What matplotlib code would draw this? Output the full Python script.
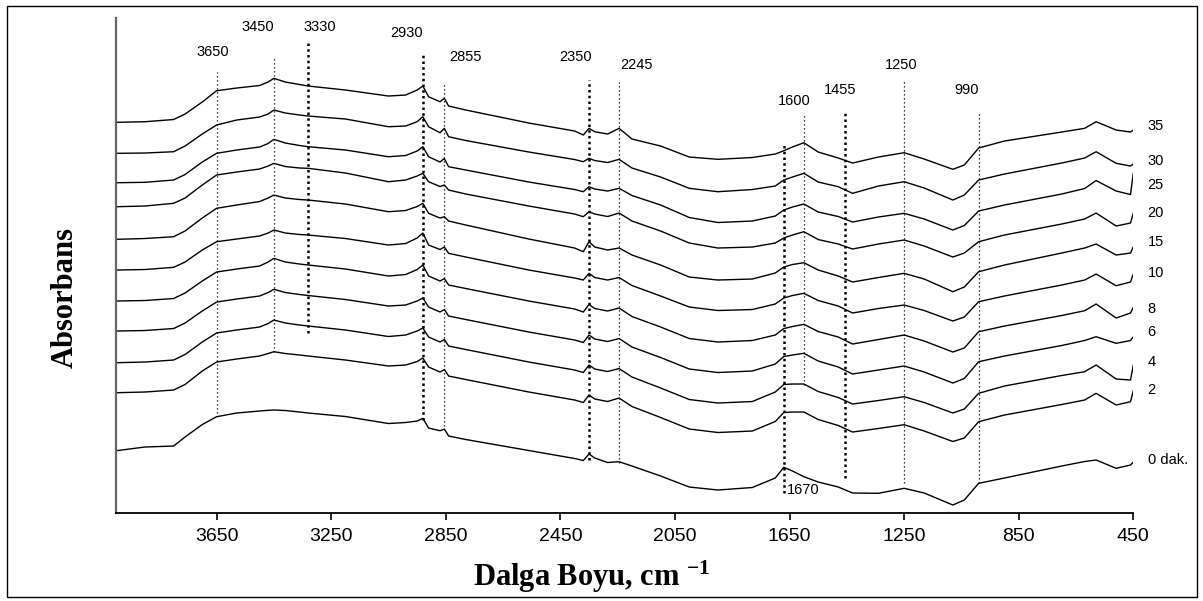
import matplotlib
matplotlib.use("Agg")
import matplotlib.pyplot as plt
from matplotlib.patches import Rectangle

plt.rcParams['font.family'] = ['Liberation Sans', 'DejaVu Sans']
plt.rcParams['mathtext.fontset'] = 'custom'
plt.rcParams['mathtext.rm'] = 'Liberation Serif:bold'
plt.rcParams['mathtext.it'] = 'Liberation Serif:bold'
plt.rcParams['mathtext.bf'] = 'Liberation Serif:bold'

# wavenumber grid (cm-1) shared by all spectra
wn = [4000, 3900, 3800, 3760, 3700, 3650, 3580, 3500, 3470, 3450,
      3410, 3360, 3330, 3200, 3050, 2990, 2950, 2930, 2910, 2870,
      2855, 2840, 2780, 2560, 2400, 2370, 2350, 2330, 2285, 2245,
      2200, 2100, 2000, 1900, 1780, 1700, 1670, 1640, 1600, 1550,
      1480, 1430, 1340, 1250, 1180, 1080, 1040, 990, 900, 700,
      620, 580, 510, 460, 450]

# absorbance (stacked) for each time in minutes
a35 = [3.907, 3.913, 3.935, 3.99, 4.11, 4.223, 4.25, 4.275, 4.31, 4.347,
       4.31, 4.285, 4.27, 4.23, 4.17, 4.18, 4.23, 4.27, 4.163, 4.113,
       4.147, 4.07, 4.03, 3.90, 3.82, 3.78, 3.847, 3.813, 3.79, 3.847,
       3.74, 3.67, 3.56, 3.537, 3.555, 3.59, 3.623, 3.66, 3.703, 3.61,
       3.55, 3.50, 3.56, 3.603, 3.54, 3.437, 3.48, 3.65, 3.72, 3.81,
       3.847, 3.913, 3.83, 3.81, 3.83]
a30 = [3.597, 3.60, 3.613, 3.67, 3.79, 3.88, 3.93, 3.96, 3.99, 4.03,
       4.00, 3.98, 3.97, 3.94, 3.863, 3.87, 3.913, 3.963, 3.863, 3.803,
       3.847, 3.763, 3.725, 3.61, 3.535, 3.513, 3.547, 3.525, 3.505, 3.537,
       3.45, 3.36, 3.247, 3.213, 3.235, 3.27, 3.33, 3.36, 3.397, 3.31,
       3.263, 3.197, 3.27, 3.313, 3.25, 3.13, 3.18, 3.33, 3.39, 3.50,
       3.55, 3.613, 3.497, 3.47, 3.49]
a25 = [3.303, 3.307, 3.33, 3.385, 3.51, 3.597, 3.63, 3.66, 3.695, 3.737,
       3.70, 3.675, 3.663, 3.63, 3.563, 3.575, 3.62, 3.663, 3.563, 3.51,
       3.545, 3.463, 3.43, 3.31, 3.235, 3.213, 3.263, 3.24, 3.22, 3.247,
       3.175, 3.08, 2.955, 2.905, 2.92, 2.97, 3.03, 3.06, 3.09, 3.01,
       2.965, 2.91, 2.96, 2.997, 2.94, 2.83, 2.875, 3.02, 3.08, 3.19,
       3.245, 3.325, 3.22, 3.185, 3.40]
a20 = [3.063, 3.07, 3.097, 3.15, 3.28, 3.38, 3.41, 3.44, 3.47, 3.497,
       3.465, 3.45, 3.447, 3.40, 3.313, 3.33, 3.37, 3.397, 3.313, 3.265,
       3.28, 3.23, 3.19, 3.07, 2.99, 2.963, 3.013, 2.99, 2.965, 3.00,
       2.92, 2.82, 2.70, 2.65, 2.66, 2.70, 2.75, 2.78, 2.813, 2.735,
       2.69, 2.64, 2.69, 2.73, 2.67, 2.56, 2.60, 2.713, 2.78, 2.89,
       2.94, 3.00, 2.87, 2.90, 3.00]
a15 = [2.737, 2.745, 2.763, 2.82, 2.95, 3.047, 3.08, 3.115, 3.15, 3.18,
       3.15, 3.135, 3.13, 3.09, 3.013, 3.025, 3.065, 3.097, 2.997, 2.95,
       2.963, 2.92, 2.88, 2.74, 2.65, 2.613, 2.713, 2.66, 2.63, 2.65,
       2.58, 2.48, 2.36, 2.33, 2.34, 2.40, 2.46, 2.485, 2.503, 2.43,
       2.37, 2.31, 2.355, 2.397, 2.34, 2.213, 2.26, 2.413, 2.48, 2.60,
       2.65, 2.69, 2.58, 2.60, 2.663]
a10 = [2.43, 2.435, 2.457, 2.51, 2.63, 2.713, 2.74, 2.77, 2.80, 2.83,
       2.80, 2.785, 2.78, 2.745, 2.68, 2.695, 2.75, 2.80, 2.68, 2.635,
       2.66, 2.597, 2.56, 2.43, 2.35, 2.33, 2.397, 2.355, 2.33, 2.355,
       2.275, 2.17, 2.06, 2.025, 2.035, 2.09, 2.15, 2.175, 2.197, 2.125,
       2.07, 2.00, 2.045, 2.08, 2.025, 1.92, 1.96, 2.113, 2.17, 2.28,
       2.33, 2.39, 2.273, 2.31, 2.39]
a8 = [2.12, 2.125, 2.145, 2.20, 2.32, 2.41, 2.44, 2.47, 2.51, 2.547,
      2.51, 2.49, 2.48, 2.44, 2.37, 2.385, 2.435, 2.48, 2.37, 2.32,
      2.345, 2.28, 2.245, 2.12, 2.04, 2.01, 2.085, 2.045, 2.02, 2.05,
      1.965, 1.86, 1.745, 1.71, 1.725, 1.78, 1.845, 1.865, 1.887, 1.815,
      1.76, 1.69, 1.735, 1.78, 1.72, 1.61, 1.65, 1.813, 1.87, 1.975,
      2.023, 2.09, 1.95, 2.00, 2.057]
a6 = [1.82, 1.825, 1.845, 1.90, 2.02, 2.11, 2.14, 2.17, 2.205, 2.237,
      2.205, 2.185, 2.175, 2.135, 2.07, 2.08, 2.12, 2.15, 2.06, 2.01,
      2.035, 1.97, 1.935, 1.81, 1.73, 1.705, 1.78, 1.74, 1.715, 1.745,
      1.66, 1.555, 1.44, 1.405, 1.42, 1.49, 1.565, 1.58, 1.597, 1.52,
      1.46, 1.39, 1.43, 1.47, 1.41, 1.30, 1.345, 1.513, 1.57, 1.675,
      1.725, 1.763, 1.697, 1.725, 1.763]
a4 = [1.503, 1.51, 1.53, 1.585, 1.71, 1.80, 1.83, 1.86, 1.895, 1.93,
      1.90, 1.88, 1.87, 1.83, 1.765, 1.78, 1.82, 1.85, 1.76, 1.71,
      1.735, 1.67, 1.635, 1.51, 1.43, 1.405, 1.48, 1.44, 1.415, 1.445,
      1.36, 1.25, 1.135, 1.10, 1.115, 1.21, 1.285, 1.29, 1.29, 1.215,
      1.155, 1.09, 1.125, 1.163, 1.105, 1.00, 1.04, 1.197, 1.27, 1.375,
      1.413, 1.48, 1.34, 1.33, 1.48]
a2 = [1.203, 1.21, 1.23, 1.285, 1.42, 1.51, 1.54, 1.57, 1.595, 1.613,
      1.595, 1.58, 1.57, 1.53, 1.47, 1.48, 1.515, 1.55, 1.46, 1.41,
      1.435, 1.37, 1.335, 1.21, 1.13, 1.105, 1.18, 1.14, 1.115, 1.15,
      1.065, 0.955, 0.84, 0.805, 0.82, 0.915, 1.005, 1.01, 1.01, 0.935,
      0.875, 0.81, 0.845, 0.883, 0.82, 0.715, 0.75, 0.913, 0.98, 1.085,
      1.13, 1.197, 1.08, 1.113, 1.223]
a0 = [0.623, 0.66, 0.67, 0.76, 0.885, 0.963, 1.00, 1.02, 1.027, 1.03,
      1.025, 1.01, 1.00, 0.965, 0.895, 0.905, 0.92, 0.947, 0.85, 0.823,
      0.84, 0.77, 0.735, 0.625, 0.545, 0.525, 0.59, 0.55, 0.505, 0.513,
      0.47, 0.37, 0.26, 0.23, 0.255, 0.35, 0.457, 0.42, 0.363, 0.31,
      0.26, 0.20, 0.197, 0.247, 0.20, 0.08, 0.13, 0.297, 0.35, 0.47,
      0.515, 0.53, 0.447, 0.48, 0.51]

spectra = [a35, a30, a25, a20, a15, a10, a8, a6, a4, a2, a0]
names = ['35', '30', '25', '20', '15', '10', '8', '6', '4', '2', '0 dak.']
name_y = [3.87, 3.52, 3.28, 3.00, 2.71, 2.40, 2.04, 1.81, 1.51, 1.23, 0.53]

# marked bands: position, line top, line bottom, bold dots
bands = [3650, 3450, 3330, 2930, 2855, 2350, 2245, 1670, 1600, 1455, 1250, 990]
band_top = [4.41, 4.56, 4.70, 4.61, 4.30, 4.33, 4.31, 3.68, 4.00, 4.01, 4.33, 4.00]
band_bot = [1.00, 1.61, 1.80, 0.93, 0.83, 0.53, 0.50, 0.20, 1.28, 0.35, 0.30, 0.30]
band_bold = [False, False, True, True, False, True, False, True, False, True, False, False]
# label anchors (wavenumber, absorbance)
band_lx = [3662, 3505, 3289, 2986, 2780, 2396, 2183, 1604, 1632, 1472, 1262, 1032]
band_ly = [4.61, 4.86, 4.86, 4.80, 4.56, 4.56, 4.48, 0.23, 4.12, 4.23, 4.48, 4.23]

fig = plt.figure(figsize=(12.03, 6.01), dpi=100)
ax = fig.add_axes([0.0962, 0.1464, 0.8459, 0.8236])

for s in spectra:
    ax.plot(wn, s, color='black', lw=1.0)

for b, t, lo, bold in zip(bands, band_top, band_bot, band_bold):
    ax.vlines(b, lo, t, colors='black', linestyles=(0, (1, 2.2)) if not bold else (0, (1, 1.3)),
              lw=1.8 if bold else 0.9)

for b, x, y in zip(bands, band_lx, band_ly):
    ax.text(x, y, str(b), ha='center', va='center', fontsize=10.5)

for n, y in zip(names, name_y):
    ax.text(400, y, n, ha='left', va='center', fontsize=10.5, clip_on=False)

ax.set_xlim(4002, 450)
ax.set_ylim(0, 4.95)
ax.set_xticks([3650, 3250, 2850, 2450, 2050, 1650, 1250, 850, 450])
ax.set_yticks([])
ax.tick_params(axis='x', direction='out', length=5, width=1.2, labelsize=14, pad=6)
for side in ['top', 'right']:
    ax.spines[side].set_visible(False)
ax.spines['bottom'].set_linewidth(1.3)
ax.spines['left'].set_color('#666666')
ax.spines['left'].set_linewidth(1.6)

fig.text(592 / 1203, 1 - 577 / 601, r'Dalga Boyu, cm $^{-1}$', ha='center', va='center',
         fontsize=22, family='Liberation Serif', weight='bold')
fig.text(65 / 1203, 1 - 298 / 601, 'Absorbans', ha='center', va='center', rotation=90,
         fontsize=22, family='Liberation Serif', weight='bold')

fig.patches.append(Rectangle((7 / 1203, 4 / 601), 1190 / 1203, 591 / 601, transform=fig.transFigure,
                             fill=False, edgecolor='black', lw=1.0))

fig.savefig('out.png', dpi=100)
